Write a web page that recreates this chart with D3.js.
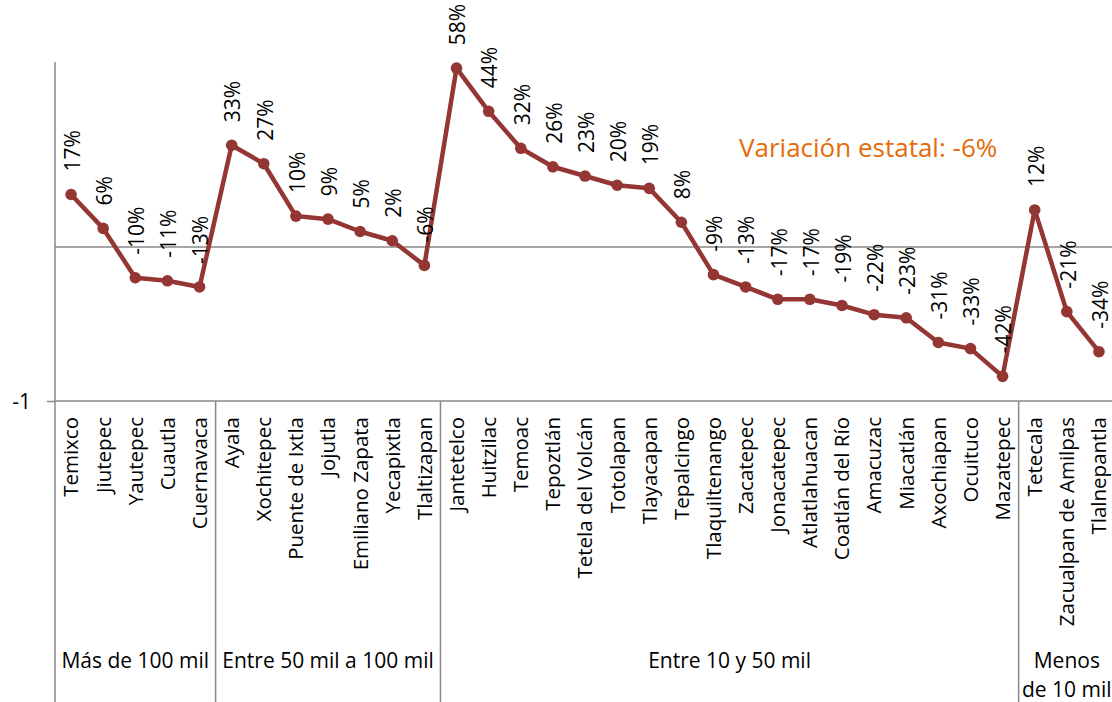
<!DOCTYPE html>
<html>
<head>
<meta charset="utf-8">
<script src="https://cdn.jsdelivr.net/npm/d3@7/dist/d3.min.js"></script>
<style>
  html, body { margin: 0; padding: 0; background: #ffffff; }
  svg { display: block; }
  text { font-family: "Open Sans", "Noto Sans", sans-serif; fill: #000; }
</style>
</head>
<body>
<svg id="chart" width="1112" height="702"></svg>
<script>
// ---- data ----
const municipios = ["Temixco", "Jiutepec", "Yautepec", "Cuautla", "Cuernavaca",
  "Ayala", "Xochitepec", "Puente de Ixtla", "Jojutla", "Emiliano Zapata", "Yecapixtla", "Tlaltizapan",
  "Jantetelco", "Huitzilac", "Temoac", "Tepoztlán", "Tetela del Volcán", "Totolapan", "Tlayacapan",
  "Tepalcingo", "Tlaquiltenango", "Zacatepec", "Jonacatepec", "Atlatlahuacan", "Coatlán del Río",
  "Amacuzac", "Miacatlán", "Axochiapan", "Ocuituco", "Mazatepec",
  "Tetecala", "Zacualpan de Amilpas", "Tlalnepantla"];
const variacion = [0.17, 0.06, -0.10, -0.11, -0.13,
  0.33, 0.27, 0.10, 0.09, 0.05, 0.02, -0.06,
  0.58, 0.44, 0.32, 0.26, 0.23, 0.20, 0.19,
  0.08, -0.09, -0.13, -0.17, -0.17, -0.19,
  -0.22, -0.23, -0.31, -0.33, -0.42,
  0.12, -0.21, -0.34];
const grupos = ["Más de 100 mil", "Entre 50 mil a 100 mil", "Entre 10 y 50 mil", "Menos|de 10 mil"];
const grupoTamanos = [5, 7, 18, 3];
const yTicks = [-0.5];
const yTickLabels = ["-1"];
const tituloEstatal = "Variación estatal: -6%";

// ---- layout ----
const svg = d3.select("#chart");
const mLeft = 55, mRight = 1115, mTop = 62, axisY = 401, mBottom = 702;
const red = "#943634", gray = "#898989", orange = "#E46C0A";

const x = d3.scaleBand().domain(municipios).range([mLeft, mRight]).padding(0);
const y = d3.scaleLinear().domain([-0.5, 0.6]).range([axisY, mTop]);
const cx = d => x(d) + x.bandwidth() / 2;

// zero line
svg.append("line").attr("x1", mLeft).attr("x2", mRight)
  .attr("y1", y(0)).attr("y2", y(0))
  .attr("stroke", gray).attr("stroke-width", 1.5);

// y axis (left line + min tick)
const yAxis = d3.axisLeft(y).tickValues(yTicks).tickSize(8)
  .tickFormat((d, i) => yTickLabels[i]);
const gy = svg.append("g").attr("transform", `translate(${mLeft},0)`).call(yAxis);
gy.select(".domain").remove();
gy.selectAll(".tick line").attr("stroke", gray).attr("stroke-width", 1.5);
gy.selectAll(".tick text").attr("x", -24).attr("dy", "0.36em")
  .style("font-size", "21px").attr("fill", "#000")
  .style("font-family", "'Open Sans', sans-serif");
svg.append("line").attr("x1", mLeft).attr("x2", mLeft).attr("y1", mTop).attr("y2", mBottom)
  .attr("stroke", gray).attr("stroke-width", 1.5);

// bottom axis line
svg.append("line").attr("x1", mLeft).attr("x2", mRight).attr("y1", axisY).attr("y2", axisY)
  .attr("stroke", gray).attr("stroke-width", 1.5);

// group separators and labels
let idx = 0;
grupos.forEach((g, gi) => {
  const startIdx = idx;
  idx += grupoTamanos[gi];
  const x0 = x(municipios[startIdx]);
  const x1 = x(municipios[idx - 1]) + x.bandwidth();
  if (gi > 0) {
    svg.append("line").attr("x1", x0).attr("x2", x0).attr("y1", axisY).attr("y2", mBottom)
      .attr("stroke", gray).attr("stroke-width", 1.5);
  }
  const lines = g.split("|");
  const t = svg.append("text").attr("text-anchor", "middle")
    .style("font-size", "21px");
  lines.forEach((ln, li) => {
    t.append("tspan").attr("x", (x0 + x1) / 2).attr("y", 668 + li * 29).text(ln);
  });
});

// category labels
svg.append("g").selectAll("text").data(municipios).join("text")
  .attr("transform", d => `translate(${cx(d)},417) rotate(-90)`)
  .attr("text-anchor", "end").attr("dy", "0.36em")
  .style("font-size", "20.5px")
  .text(d => d);

// line
const pts = municipios.map((m, i) => [cx(m), y(variacion[i])]);
svg.append("path").attr("d", d3.line()(pts))
  .attr("fill", "none").attr("stroke", red).attr("stroke-width", 4.5)
  .attr("stroke-linejoin", "round");
svg.append("g").selectAll("circle").data(pts).join("circle")
  .attr("cx", d => d[0]).attr("cy", d => d[1]).attr("r", 5.8).attr("fill", red);

// data labels
svg.append("g").selectAll("text").data(municipios).join("text")
  .attr("transform", (d, i) => `translate(${cx(d)},${y(variacion[i]) - 23}) rotate(-90)`)
  .attr("text-anchor", "start").attr("dy", "0.42em")
  .style("font-size", "21px")
  .text((d, i) => Math.round(variacion[i] * 100) + "%");

// state variation annotation
svg.append("text").attr("x", 739).attr("y", 157)
  .style("font-size", "26px").style("fill", orange)
  .text(tituloEstatal);
</script>
</body>
</html>
